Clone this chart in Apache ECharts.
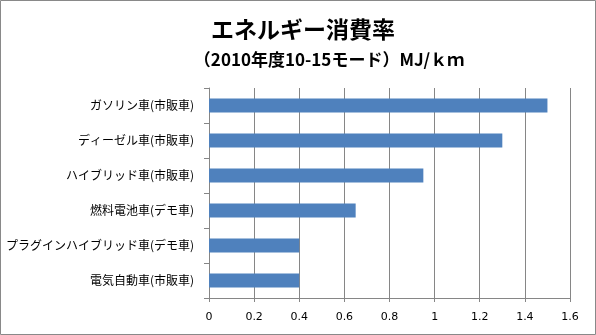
<!DOCTYPE html>
<html><head><meta charset="utf-8">
<script src="https://cdn.jsdelivr.net/npm/echarts@6/dist/echarts.min.js"></script>
<style>html,body{margin:0;padding:0;background:#fff}#c{width:596px;height:335px}</style>
</head><body><div id="c"></div>
<script>
const categories = ['電気自動車(市販車)','プラグインハイブリッド車(デモ車)','燃料電池車(デモ車)','ハイブリッド車(市販車)','ディーゼル車(市販車)','ガソリン車(市販車)'];
const values = [0.4, 0.4, 0.65, 0.95, 1.3, 1.5];
const xTicks = [0, 0.2, 0.4, 0.6, 0.8, 1, 1.2, 1.4, 1.6];
const titleLine1 = 'エネルギー消費率';
const titleLine2 = '（2010年度10-15モード）MJ/ｋｍ';

const font = '"Noto Sans CJK JP", "Noto Sans", sans-serif';
const chart = echarts.init(document.getElementById('c'));
chart.setOption({
  animation: false,
  title: [
    {text: titleLine1, left: 298, top: 13, textAlign: 'center',
     textStyle: {fontFamily: font, fontSize: 23, fontWeight: 'bold', color: '#000'}},
    {text: titleLine2, left: 324, top: 46, textAlign: 'center',
     textStyle: {fontFamily: font, fontSize: 17, fontWeight: 'bold', color: '#000'}}
  ],
  graphic: [{type: 'rect', shape: {x: 0.5, y: 0.5, width: 595, height: 334},
    style: {fill: 'none', stroke: '#898989', lineWidth: 1}}],
  grid: {left: 209, right: 26, top: 88, bottom: 37, containLabel: false},
  xAxis: {
    type: 'value', min: 0, max: 1.6, interval: 0.2,
    axisLine: {show: true, lineStyle: {color: '#868686'}},
    axisTick: {show: true, length: 4, lineStyle: {color: '#868686'}},
    axisLabel: {color: '#000', fontSize: 11, fontFamily: 'DejaVu Sans, sans-serif', margin: 14,
      formatter: v => { const t = xTicks.find(x => Math.abs(x - v) < 1e-9); return t === undefined ? '' : String(t); }},
    splitLine: {show: true, lineStyle: {color: '#868686', width: 1}}
  },
  yAxis: {
    type: 'category', data: categories,
    axisLine: {show: true, lineStyle: {color: '#868686'}},
    axisTick: {show: true, length: 5, lineStyle: {color: '#868686'}},
    axisLabel: {color: '#000', fontSize: 12, fontFamily: font, margin: 15}
  },
  series: [{type: 'bar', data: values, barWidth: '40%', itemStyle: {color: '#4f81bd'}}]
});
</script></body></html>
